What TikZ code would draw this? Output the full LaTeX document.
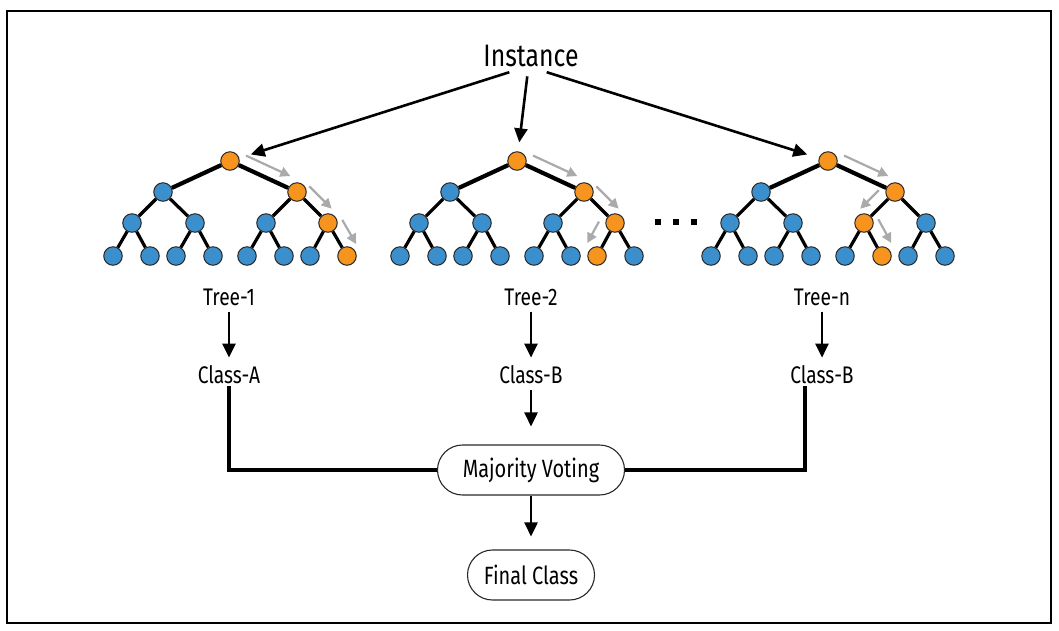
\documentclass[tikz,border=0pt]{standalone}
\usepackage{fontspec}
\setmainfont[FakeStretch=0.8]{Fira Sans}
\usepackage{tikz}
\usetikzlibrary{arrows.meta,positioning,calc}
\definecolor{treeblue}{RGB}{58,143,204}
\definecolor{treeorange}{RGB}{247,148,30}
\definecolor{hintgray}{RGB}{170,170,170}
\definecolor{rimgray}{RGB}{40,40,40}

\newcommand{\randtree}[3]{%
  \foreach \i/\dx/\y/\sh in {1/0/161/3, 2/-67/192/2, 3/67/192/2,
      4/-98/223/1, 5/-35/223/1, 6/36/223/1, 7/98/223/1,
      8/-117/256/0, 9/-80/256/0, 10/-54/256/0, 11/-17/256/0,
      12/17/256/0, 13/54/256/0, 14/80/256/0, 15/117/256/0}{
    \pgfmathtruncatemacro\anc{floor(#3/2^\sh)}
    \ifnum\anc=\i \def\col{treeorange}\else\def\col{treeblue}\fi
    \node[tnode, fill=\col] (#1-\i) at ({#2+(\dx)},\y) {};
  }
  \foreach \i in {2,...,15}{
    \pgfmathtruncatemacro\up{\i/2}
    \ifnum\i<4 \def\w{4.2pt}\else\def\w{3.2pt}\fi
    \draw[tedge, line width=\w] (#1-\up) -- (#1-\i);
  }
}
\newcommand{\hint}[5]{%
  \draw[hintarrow] ($(#1)!#3!(#2)+(#5)$) -- ($(#1)!#4!(#2)+(#5)$);
}

\begin{document}
\begin{tikzpicture}[x=1pt,y=-1pt,
    tnode/.style={circle, draw=rimgray, line width=1pt, minimum size=18.5pt, inner sep=0pt},
    tedge/.style={black},
    arr/.style={line width=2.6pt, -{Triangle[length=14pt,width=13pt]}},
    hintarrow/.style={line width=2.2pt, hintgray, -{Triangle[length=10pt,width=10pt]}},
    lbl/.style={font=\fontsize{24}{28}\selectfont, inner sep=2pt},
    pill/.style={draw=rimgray, line width=1.1pt, rounded corners=25pt, minimum height=50pt,
      font=\fontsize{25}{30}\selectfont},
    link/.style={line width=3.2pt},
    dotsq/.style={fill=black, minimum size=5.5pt, inner sep=0pt}]
  \useasboundingbox (0,0) rectangle (1059,630);
  \draw[line width=1.4pt] (7,11) rectangle (1051,623);
  \node[font=\fontsize{31}{36}\selectfont] (inst) at (531,56) {Instance};
  \randtree{t1}{230}{15}
  \randtree{t2}{517}{14}
  \randtree{t3}{828}{13}
  \foreach \k in {0,1,2}
    \node[dotsq] (dot\k) at (658+18*\k,222) {};
  \hint{t1-1}{t1-3}{0.18}{0.84}{4,-11}
  \hint{t1-3}{t1-7}{0.14}{0.86}{8,-10}
  \hint{t1-7}{t1-15}{0.12}{0.85}{12,-7}
  \hint{t2-1}{t2-3}{0.18}{0.84}{4,-11}
  \hint{t2-3}{t2-7}{0.14}{0.86}{8,-10}
  \hint{t2-7}{t2-14}{0.17}{0.82}{-13,-7}
  \hint{t3-1}{t3-3}{0.18}{0.84}{4,-11}
  \hint{t3-3}{t3-6}{0.2}{0.8}{-10,-8}
  \hint{t3-6}{t3-13}{0.13}{0.85}{12,-8}
  \draw[arr, shorten <=6pt, shorten >=12pt] ([xshift=-16pt]inst.south) -- (t1-1);
  \draw[arr, shorten <=6pt, shorten >=9pt] ([xshift=-3pt]inst.south) -- (t2-1);
  \draw[arr, shorten <=6pt, shorten >=12pt] ([xshift=10pt]inst.south) -- (t3-1);
  \node[lbl] (tree1) at (229,297) {Tree-1};
  \node[lbl] (tree2) at (531,297) {Tree-2};
  \node[lbl] (treen) at (822,297) {Tree-n};
  \node[lbl] (cls1) at (229,375) {Class-A};
  \node[lbl] (cls2) at (531,375) {Class-B};
  \node[lbl] (clsn) at (822,375) {Class-B};
  \draw[arr, shorten <=4pt, shorten >=6pt] (tree1) -- (cls1);
  \draw[arr, shorten <=4pt, shorten >=6pt] (tree2) -- (cls2);
  \draw[arr, shorten <=4pt, shorten >=6pt] (treen) -- (clsn);
  \node[pill, minimum width=187pt] (vote) at (531,470) {Majority Voting};
  \node[pill, minimum width=127pt] (final) at (531,575) {Final Class};
  \draw[arr, shorten <=4pt, shorten >=18pt] (cls2) -- (vote);
  \draw[arr, shorten >=13pt] (vote) -- (final);
  \draw[link] (cls1.south) |- (vote.west);
  \draw[link] ([xshift=-17pt]clsn.south) |- (vote.east);
\end{tikzpicture}
\end{document}
